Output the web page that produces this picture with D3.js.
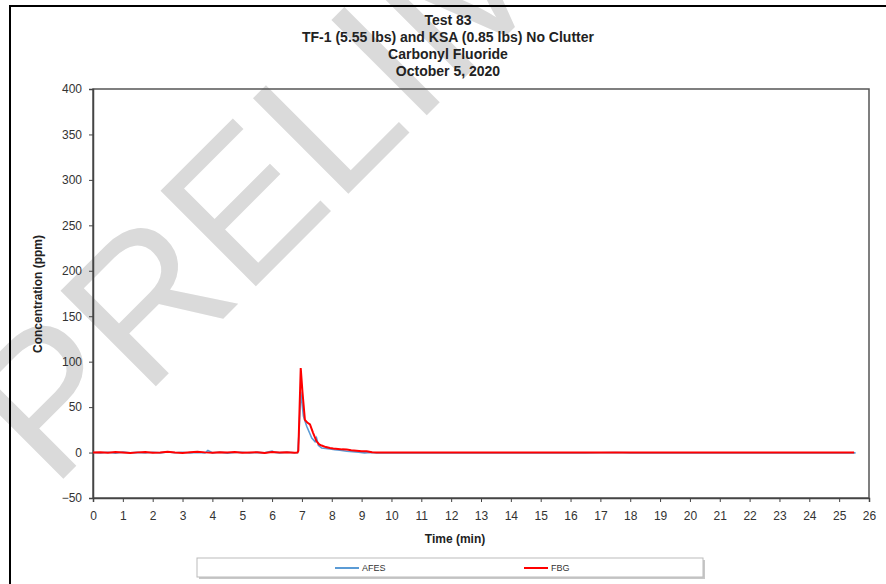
<!DOCTYPE html>
<meta charset="utf-8" />
<html lang="en">
  <head>
    <script src="https://d3js.org/d3.v7.min.js"></script>
    <style>
      body {
        margin: 0;
        background: #fff;
      }
      svg text {
        font-family: Arial, "Liberation Sans", sans-serif;
        fill: #222;
      }
      .title text {
        font-size: 14px;
        font-weight: bold;
        text-anchor: middle;
      }
      .axis text {
        font-size: 12px;
        fill: #333;
      }
      .axis path,
      .axis line {
        stroke: #444;
      }
      .label {
        font-size: 12px;
        font-weight: bold;
        text-anchor: middle;
      }
      .legend text {
        font-size: 9px;
        fill: #333;
      }
    </style>
  </head>
  <body>
    <svg width="886" height="584"></svg>
    <script>
      // title lines
      var titleLines = [
        "Test 83",
        "TF-1 (5.55 lbs) and KSA (0.85 lbs) No Clutter",
        "Carbonyl Fluoride",
        "October 5, 2020"
      ];

      var xTicks = [0, 1, 2, 3, 4, 5, 6, 7, 8, 9, 10, 11, 12, 13, 14, 15, 16, 17, 18, 19, 20, 21, 22, 23, 24, 25, 26];
      var yTicks = [-50, 0, 50, 100, 150, 200, 250, 300, 350, 400];

      var seriesNames = ["AFES", "FBG"];
      var seriesColors = ["#5b9bd5", "#ff0000"];

      // AFES (blue)
      var afesTime = [0, 0.25, 0.5, 0.75, 1, 1.25, 1.5, 1.75, 2, 2.25, 2.5, 2.75, 3, 3.25, 3.5, 3.75, 3.85, 4, 4.25, 4.5, 4.75, 5, 5.25, 5.5, 5.75, 6, 6.1, 6.25, 6.5, 6.75, 6.86,
        6.9, 6.96, 7.05, 7.16, 7.25, 7.33, 7.44, 7.49, 7.55, 7.66, 7.8, 7.94, 8.1, 8.27, 8.5, 8.7, 8.9, 9.1, 9.3,
        9.5, 10, 10.5, 11, 11.5, 12, 12.5, 13, 13.5, 14, 14.5, 15, 15.5, 16, 16.5, 17, 17.5, 18, 18.5, 19, 19.5, 20, 20.5, 21, 21.5, 22, 22.5, 23, 23.5, 24, 24.5, 25, 25.55];
      var afesPpm = [0, -0.4, 0.3, -0.6, 0.5, -0.2, 0.2, -0.5, 0.4, -0.3, 0.6, -0.2, 0.3, -0.5, 0.2, -0.4, 2.2, -0.3, 0.4, -0.6, 0.1, 0.4, -0.5, 0.2, -0.3, 1.6, 0.2, -0.4, 0.3, -0.2, 0,
        20, 67, 40, 29, 22, 16, 12, 16, 8, 5, 4.5, 4, 3, 2.5, 1.5, 1, 0.5, -0.3, 0,
        -0.4, -0.3, -0.5, -0.2, -0.4, -0.3, -0.5, -0.2, -0.4, -0.3, -0.5, -0.2, -0.4, -0.3, -0.5, -0.2, 0, -0.4, -0.3, -0.5, -0.2, -0.4, -0.3, -0.5, -0.2, -0.4, -0.3, -0.5, -0.2, -0.4, -0.3, -0.5, -0.4];

      // FBG (red)
      var fbgTime = [0, 0.25, 0.5, 0.75, 1, 1.25, 1.5, 1.75, 2, 2.25, 2.5, 2.75, 3, 3.25, 3.5, 3.75, 4, 4.25, 4.5, 4.75, 5, 5.25, 5.5, 5.75, 6, 6.25, 6.5, 6.75, 6.85,
        6.88, 6.96, 7.02, 7.1, 7.18, 7.27, 7.37, 7.49, 7.58, 7.66, 7.8, 7.94, 8.05, 8.21, 8.35, 8.5, 8.65, 8.83, 9.0, 9.17, 9.35,
        9.5, 10, 10.5, 11, 11.5, 12, 12.5, 13, 13.5, 14, 14.5, 15, 15.5, 16, 16.5, 17, 17.5, 18, 18.5, 19, 19.5, 20, 20.5, 21, 21.5, 22, 22.5, 23, 23.5, 24, 24.5, 25, 25.5];
      var fbgPpm = [0, 0.3, -0.2, 0.5, 0, -0.4, 0.2, 0.6, -0.3, 0.1, 0.8, 0, -0.5, 0.3, 0.9, 0.2, -0.3, 0.4, 0, 0.6, -0.2, 0.1, 0.3, -0.4, 0.7, 0, 0.2, -0.1, 0,
        2, 93, 66, 36, 33, 31, 22, 12.4, 9, 7.7, 6, 5, 4.5, 4, 3.5, 3.3, 2.5, 2, 1.4, 1.4, 0.3,
        0, 0.1, 0, 0.1, 0, 0.1, 0, 0.1, 0, 0.1, 0, 0.1, 0, 0.1, 0, 0.1, 0, 0.1, 0, 0.1, 0, 0.1, 0, 0.1, 0, 0.1, 0, 0.1, 0, 0.1, 0, 0.1, 0];

      var svg = d3.select("svg");
      var margin = { left: 93, top: 89, width: 776, height: 409 };

      // watermark
      svg
        .append("text")
        .attr("transform", "translate(52,490) rotate(-45)")
        .style("font-size", "196px")
        .style("fill", "#dadada")
        .text("PRELIMINARY");

      // outer frame
      svg.append("line").attr("x1", 10).attr("x2", 886).attr("y1", 6).attr("y2", 6).attr("stroke", "#000").attr("stroke-width", 2);
      svg.append("line").attr("x1", 10).attr("x2", 10).attr("y1", 5).attr("y2", 584).attr("stroke", "#000").attr("stroke-width", 2);

      var title = svg.append("g").attr("class", "title");
      title
        .selectAll("text")
        .data(titleLines)
        .enter()
        .append("text")
        .attr("x", 448)
        .attr("y", function(d, i) {
          return 25 + i * 17;
        })
        .text(function(d) {
          return d;
        });

      var x = d3.scaleLinear().domain([0, 26]).range([margin.left, margin.left + margin.width]);
      var y = d3.scaleLinear().domain([-50, 400]).range([margin.top + margin.height, margin.top]);

      // plot frame
      svg
        .append("rect")
        .attr("x", margin.left)
        .attr("y", margin.top)
        .attr("width", margin.width)
        .attr("height", margin.height)
        .attr("fill", "none")
        .attr("stroke", "#555")
        .attr("stroke-width", 1.5);

      var xAxis = svg
        .append("g")
        .attr("class", "axis")
        .attr("transform", "translate(0," + (margin.top + margin.height) + ")")
        .call(d3.axisBottom(x).tickValues(xTicks).tickSize(4).tickPadding(9).tickFormat(d3.format("d")));
      xAxis.select(".domain").attr("stroke-width", 1.5);

      var yAxis = svg
        .append("g")
        .attr("class", "axis")
        .attr("transform", "translate(" + margin.left + ",0)")
        .call(d3.axisLeft(y).tickValues(yTicks).tickSize(4).tickPadding(7).tickFormat(d3.format("d")));
      yAxis.select(".domain").attr("stroke-width", 1.5);

      svg.append("text").attr("class", "label").attr("x", 455).attr("y", 543).text("Time (min)");
      svg
        .append("text")
        .attr("class", "label")
        .attr("transform", "translate(42,294) rotate(-90)")
        .text("Concentration (ppm)");

      var line = d3
        .line()
        .x(function(d) {
          return x(d[0]);
        })
        .y(function(d) {
          return y(d[1]);
        });

      var afes = d3.zip(afesTime, afesPpm);
      var fbg = d3.zip(fbgTime, fbgPpm);

      svg
        .append("path")
        .datum(afes)
        .attr("d", line)
        .attr("fill", "none")
        .attr("stroke", seriesColors[0])
        .attr("stroke-width", 1.6);

      svg
        .append("path")
        .datum(fbg)
        .attr("d", line)
        .attr("fill", "none")
        .attr("stroke", seriesColors[1])
        .attr("stroke-width", 2);

      // legend
      var legend = svg.append("g").attr("class", "legend");
      legend
        .append("rect")
        .attr("x", 199)
        .attr("y", 560)
        .attr("width", 506)
        .attr("height", 19)
        .attr("fill", "#c8c8c8");
      legend
        .append("rect")
        .attr("x", 197)
        .attr("y", 558)
        .attr("width", 506)
        .attr("height", 19)
        .attr("fill", "#fff")
        .attr("stroke", "#bbb");

      var legendX = [335, 524];
      var items = legend
        .selectAll(".item")
        .data(seriesNames)
        .enter()
        .append("g")
        .attr("class", "item")
        .attr("transform", function(d, i) {
          return "translate(" + legendX[i] + ",568)";
        });
      items
        .append("line")
        .attr("x1", 0)
        .attr("x2", 24)
        .attr("stroke", function(d, i) {
          return seriesColors[i];
        })
        .attr("stroke-width", 2);
      items
        .append("text")
        .attr("x", 27)
        .attr("y", 3)
        .text(function(d) {
          return d;
        });
    </script>
  </body>
</html>
